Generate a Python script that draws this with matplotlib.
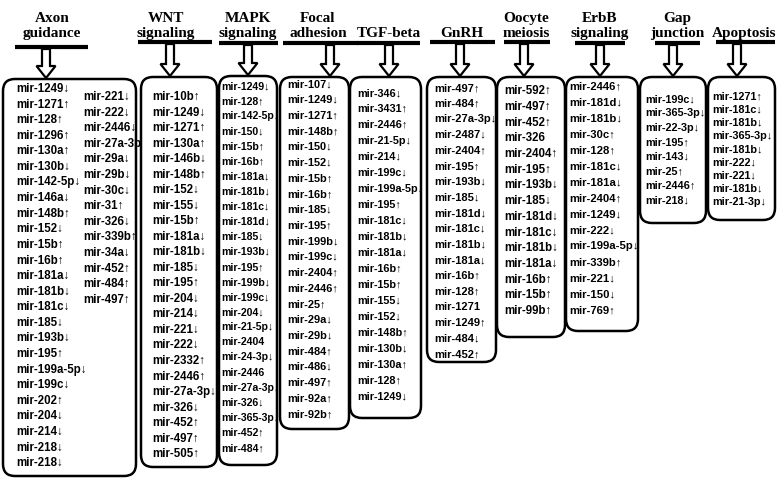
import matplotlib
matplotlib.use('Agg')
import matplotlib.pyplot as plt
from matplotlib.patches import FancyBboxPatch, FancyArrow

plt.rcParams['font.family'] = ['Liberation Sans Narrow', 'Liberation Sans', 'DejaVu Sans']

# pathway titles
titles = ['Axon\nguidance', 'WNT\nsignaling', 'MAPK\nsignaling', 'Focal\nadhesion', 'TGF-beta',
          'GnRH', 'Oocyte\nmeiosis', 'ErbB\nsignaling', 'Gap\njunction', 'Apoptosis']

# miRNAs listed under each pathway
axon = ['mir-1249↓', 'mir-1271↑', 'mir-128↑', 'mir-1296↑', 'mir-130a↑', 'mir-130b↓', 'mir-142-5p↓',
        'mir-146a↓', 'mir-148b↑', 'mir-152↓', 'mir-15b↑', 'mir-16b↑', 'mir-181a↓', 'mir-181b↓',
        'mir-181c↓', 'mir-185↓', 'mir-193b↓', 'mir-195↑', 'mir-199a-5p↓', 'mir-199c↓', 'mir-202↑',
        'mir-204↓', 'mir-214↓', 'mir-218↓', 'mir-218↓',
        'mir-221↓', 'mir-222↓', 'mir-2446↓', 'mir-27a-3p', 'mir-29a↓', 'mir-29b↓', 'mir-30c↓',
        'mir-31↑', 'mir-326↓', 'mir-339b↑', 'mir-34a↓', 'mir-452↑', 'mir-484↑', 'mir-497↑']
wnt = ['mir-10b↑', 'mir-1249↓', 'mir-1271↑', 'mir-130a↑', 'mir-146b↓', 'mir-148b↑', 'mir-152↓',
       'mir-155↓', 'mir-15b↑', 'mir-181a↓', 'mir-181b↓', 'mir-185↓', 'mir-195↑', 'mir-204↓',
       'mir-214↓', 'mir-221↓', 'mir-222↓', 'mir-2332↑', 'mir-2446↑', 'mir-27a-3p↓', 'mir-326↓',
       'mir-452↑', 'mir-497↑', 'mir-505↑']
mapk = ['mir-1249↓', 'mir-128↑', 'mir-142-5p↓', 'mir-150↓', 'mir-15b↑', 'mir-16b↑', 'mir-181a↓',
        'mir-181b↓', 'mir-181c↓', 'mir-181d↓', 'mir-185↓', 'mir-193b↓', 'mir-195↑', 'mir-199b↓',
        'mir-199c↓', 'mir-204↓', 'mir-21-5p↓', 'mir-2404', 'mir-24-3p↓', 'mir-2446', 'mir-27a-3p↓',
        'mir-326↓', 'mir-365-3p↓', 'mir-452↑', 'mir-484↑']
focal = ['mir-107↓', 'mir-1249↓', 'mir-1271↑', 'mir-148b↑', 'mir-150↓', 'mir-152↓', 'mir-15b↑',
         'mir-16b↑', 'mir-185↓', 'mir-195↑', 'mir-199b↓', 'mir-199c↓', 'mir-2404↑', 'mir-2446↑',
         'mir-25↑', 'mir-29a↓', 'mir-29b↓', 'mir-484↑', 'mir-486↓', 'mir-497↑', 'mir-92a↑', 'mir-92b↑']
tgf = ['mir-346↓', 'mir-3431↑', 'mir-2446↑', 'mir-21-5p↓', 'mir-214↓', 'mir-199c↓', 'mir-199a-5p↓',
       'mir-195↑', 'mir-181c↓', 'mir-181b↓', 'mir-181a↓', 'mir-16b↑', 'mir-15b↑', 'mir-155↓',
       'mir-152↓', 'mir-148b↑', 'mir-130b↓', 'mir-130a↑', 'mir-128↑', 'mir-1249↓']
gnrh = ['mir-497↑', 'mir-484↑', 'mir-27a-3p↓', 'mir-2487↓', 'mir-2404↑', 'mir-195↑', 'mir-193b↓',
        'mir-185↓', 'mir-181d↓', 'mir-181c↓', 'mir-181b↓', 'mir-181a↓', 'mir-16b↑', 'mir-128↑',
        'mir-1271', 'mir-1249↑', 'mir-484↓', 'mir-452↑']
oocyte = ['mir-592↑', 'mir-497↑', 'mir-452↑', 'mir-326', 'mir-2404↑', 'mir-195↑', 'mir-193b↓',
          'mir-185↓', 'mir-181d↓', 'mir-181c↓', 'mir-181b↓', 'mir-181a↓', 'mir-16b↑', 'mir-15b↑',
          'mir-99b↑']
erbb = ['mir-2446↑', 'mir-181d↓', 'mir-181b↓', 'mir-30c↑', 'mir-128↑', 'mir-181c↓', 'mir-181a↓',
        'mir-2404↑', 'mir-1249↓', 'mir-222↓', 'mir-199a-5p↓', 'mir-339b↑', 'mir-221↓', 'mir-150↓',
        'mir-769↑']
gap = ['mir-199c↓', 'mir-365-3p↓', 'mir-22-3p↓', 'mir-195↑', 'mir-143↓', 'mir-25↑', 'mir-2446↑',
       'mir-218↓']
apoptosis = ['mir-1271↑', 'mir-181c↓', 'mir-181b↓', 'mir-365-3p↓', 'mir-181b↓', 'mir-222↓',
             'mir-221↓', 'mir-181b↓', 'mir-21-3p↓']

mirnas = [axon, wnt, mapk, focal, tgf, gnrh, oocyte, erbb, gap, apoptosis]

# layout in pixels: box (x0, x1, y0, y1), title x, bar (x0, x1, y), arrow x, text x, first/last y, font size
layout = [
    dict(box=(3, 136, 79, 476), tx=52, bar=(15, 88, 47), ax=46, txt=16, y0=89, y1=463, fs=8.3, split=25, col2=(83, 97)),
    dict(box=(141, 217, 77, 467), tx=166, bar=(138, 212, 42), ax=170, txt=152, y0=97, y1=454, fs=8.3),
    dict(box=(219, 277, 76, 465), tx=248, bar=(219, 278, 43), ax=248, txt=221, y0=86, y1=448, fs=7.6),
    dict(box=(280, 349, 77, 429), tx=318, bar=(283, 358, 43), ax=330, txt=287, y0=84, y1=414, fs=7.9),
    dict(box=(350, 421, 77, 418), tx=389, bar=(357, 420, 43), ax=389, txt=357, y0=93, y1=396, fs=7.8),
    dict(box=(427, 496, 77, 362), tx=462, bar=(430, 495, 42), ax=460, txt=434, y0=88, y1=354, fs=8.0),
    dict(box=(497, 565, 77, 337), tx=526, bar=(504, 550, 42), ax=524, txt=504, y0=91, y1=311, fs=8.3),
    dict(box=(566, 638, 77, 331), tx=600, bar=(575, 625, 43), ax=600, txt=569, y0=86, y1=310, fs=8.1),
    dict(box=(640, 706, 77, 223), tx=677, bar=(655, 700, 43), ax=673, txt=645, y0=99, y1=200, fs=7.8),
    dict(box=(708, 775, 77, 220), tx=744, bar=(716, 775, 42), ax=737, txt=712, y0=96, y1=202, fs=7.8),
]

fig = plt.figure(figsize=(7.82, 4.84), dpi=100)
ax = fig.add_axes([0, 0, 1, 1])
ax.set_xlim(0, 782)
ax.set_ylim(484, 0)
ax.axis('off')

for title, items, lay in zip(titles, mirnas, layout):
    x0, x1, y0, y1 = lay['box']
    rad = 12
    box = FancyBboxPatch((x0 + rad, y0 + rad), x1 - x0 - 2 * rad, y1 - y0 - 2 * rad,
                         boxstyle='round,pad=%d' % rad, fc='white', ec='black', lw=1.8)
    ax.add_patch(box)

    # title (serif, bold)
    ax.text(lay['tx'], 37, title, ha='center', va='baseline', fontsize=11, fontweight='bold',
            family=['Liberation Serif', 'DejaVu Serif'], linespacing=1.22)
    bx0, bx1, by = lay['bar']
    ax.plot([bx0, bx1], [by, by], color='black', lw=3, solid_capstyle='butt')

    # hollow arrow from bar to box
    arr = FancyArrow(lay['ax'], by + 2, 0, y0 - by - 3, width=8, head_width=19, head_length=12,
                     length_includes_head=True, fc='white', ec='black', lw=1.6)
    ax.add_patch(arr)

    split = lay.get('split', len(items))
    col1 = items[:split]
    step = (lay['y1'] - lay['y0']) / max(len(col1) - 1, 1)
    for i, s in enumerate(col1):
        ax.text(lay['txt'], lay['y0'] + i * step, s, ha='left', va='center', fontsize=lay['fs'],
                fontweight='bold')
    if split < len(items):
        cx, cy = lay['col2']
        for i, s in enumerate(items[split:]):
            ax.text(cx, cy + i * step, s, ha='left', va='center', fontsize=lay['fs'], fontweight='bold')

fig.savefig('out.png', dpi=100)
